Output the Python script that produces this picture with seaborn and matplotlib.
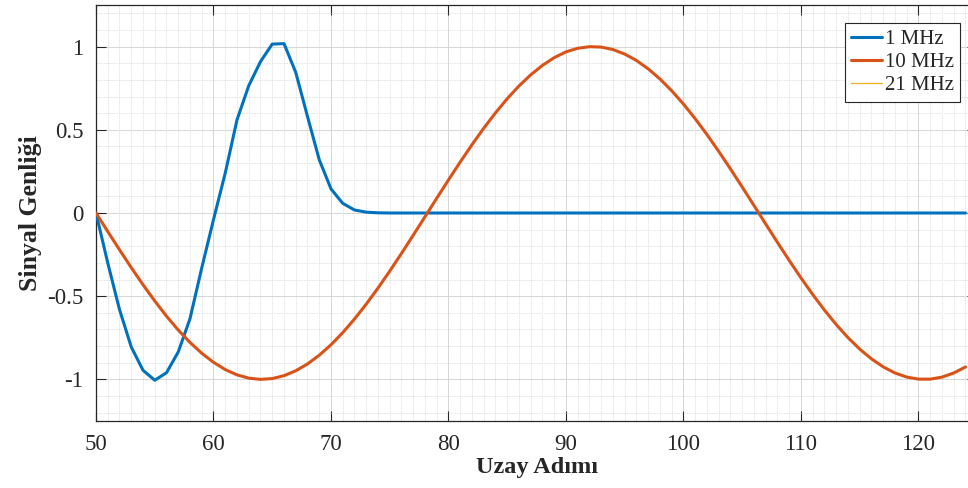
import numpy as np
import pandas as pd
import matplotlib
matplotlib.use("Agg")
import matplotlib.pyplot as plt
from matplotlib.ticker import MultipleLocator, FuncFormatter
from matplotlib.lines import Line2D
import seaborn as sns

# Spatial step index
steps = list(range(50, 125))

# 1 MHz pulse amplitude at each step
amp_1mhz = [0.0, -0.30, -0.58, -0.805, -0.945, -1.005, -0.96, -0.835, -0.635, -0.33,
            -0.04, 0.24, 0.56, 0.765, 0.91, 1.015, 1.018, 0.845, 0.58, 0.32,
            0.145, 0.058, 0.018, 0.005, 0.001] + [0.0] * 50

# 10 MHz wave amplitude at each step
amp_10mhz = [0.0, -0.1112, -0.2210, -0.3280, -0.4310, -0.5286, -0.6199, -0.7033, -0.7778, -0.8428,
             -0.8973, -0.9410, -0.9727, -0.9925, -1.0000, -0.9950, -0.9777, -0.9482, -0.9071, -0.8546,
             -0.7919, -0.7189, -0.6372, -0.5475, -0.4511, -0.3491, -0.2427, -0.1334, -0.0224, 0.0888,
             0.1991, 0.3068, 0.4107, 0.5095, 0.6020, 0.6871, 0.7637, 0.8303, 0.8875, 0.9337,
             0.9684, 0.9900, 0.9994, 0.9970, 0.9822, 0.9552, 0.9165, 0.8661, 0.8052, 0.7343,
             0.6544, 0.5661, 0.4710, 0.3700, 0.2644, 0.1556, 0.0448, -0.0666, -0.1771, -0.2854,
             -0.3902, -0.4900, -0.5840, -0.6707, -0.7488, -0.8180, -0.8767, -0.9249, -0.9614, -0.9861,
             -0.9984, -0.9985, -0.9862, -0.9617, -0.9252]

# 21 MHz series carries no samples in this window
amp_21mhz = []

series_names = ["1 MHz", "10 MHz", "21 MHz"]
colors = ["#0072BD", "#D95319", "#EDB120"]
widths = [2.2, 2.2, 0.9]

x_ticks = [50, 60, 70, 80, 90, 100, 110, 120]
y_ticks = [-1, -0.5, 0, 0.5, 1]

sns.set_style("ticks")
plt.rcParams["font.family"] = ["Liberation Serif", "DejaVu Serif"]
plt.rcParams["axes.unicode_minus"] = False

fig = plt.figure(figsize=(9.68, 4.88), dpi=100)
ax_w = 75 * 11.75 / 968
ax = fig.add_axes([96 / 968, 1 - 421 / 488, ax_w, 416 / 488])

df1 = pd.DataFrame({"step": steps, "amp": amp_1mhz})
df10 = pd.DataFrame({"step": steps, "amp": amp_10mhz})

sns.lineplot(data=df1, x="step", y="amp", ax=ax, color=colors[0], linewidth=widths[0], zorder=3)
sns.lineplot(data=df10, x="step", y="amp", ax=ax, color=colors[1], linewidth=widths[1], zorder=3)
if len(amp_21mhz):
    sns.lineplot(x=steps[:len(amp_21mhz)], y=amp_21mhz, ax=ax, color=colors[2], linewidth=widths[2])

ax.set_xlim(50, 125)
ax.set_ylim(-1.25, 1.25)
ax.set_xticks(x_ticks)
ax.set_yticks(y_ticks)
ax.yaxis.set_major_formatter(FuncFormatter(lambda v, p: "%g" % v))
ax.xaxis.set_minor_locator(MultipleLocator(1))
ax.yaxis.set_minor_locator(MultipleLocator(0.1))

ax.grid(which="major", color="#d6d6d6", linewidth=0.7, zorder=0)
ax.grid(which="minor", color="#e2e2e2", linewidth=0.6, linestyle=(0, (2, 1)), zorder=0)
ax.set_axisbelow(True)

ax.tick_params(which="major", direction="in", length=7, width=0.8, color="#262626",
               top=True, right=True, labelsize=16.5, pad=9, labelcolor="#262626")
ax.tick_params(which="minor", length=0)
for s in ax.spines.values():
    s.set_color("#262626")
    s.set_linewidth(0.9)

ax.set_xlabel("Uzay Adımı", fontsize=17.5, fontweight="bold", labelpad=2, color="#262626")
ax.set_ylabel("Sinyal Genliği", fontsize=18.5, fontweight="bold", labelpad=4, color="#262626")

handles = [Line2D([], [], color=c, linewidth=w) for c, w in zip(colors, widths)]
leg = fig.legend(handles, series_names, loc="upper right",
                 bbox_to_anchor=(960 / 968, 1 - 23 / 488), fontsize=15,
                 frameon=True, fancybox=False, framealpha=1, edgecolor="#262626",
                 handlelength=1.45, handletextpad=0.15, borderpad=0.3, labelspacing=0.18,
                 borderaxespad=0)
leg.get_frame().set_linewidth(0.8)

fig.savefig("out.png", dpi=100)
